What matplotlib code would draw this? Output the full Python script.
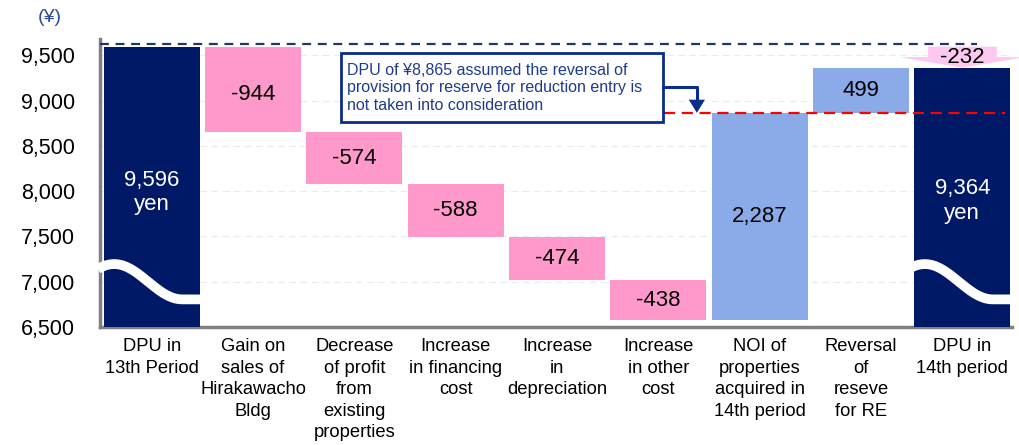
import numpy as np
import matplotlib.pyplot as plt
from matplotlib.patches import Rectangle, Polygon

plt.rcParams['font.family'] = ['Liberation Sans', 'DejaVu Sans']

# donnees du graphe
categories = ["DPU in\n13th Period", "Gain on\nsales of\nHirakawacho\nBldg",
              "Decrease\nof profit\nfrom\nexisting\nproperties",
              "Increase\nin financing\ncost", "Increase\nin\ndepreciation",
              "Increase\nin other\ncost", "NOI of\nproperties\nacquired in\n14th period",
              "Reversal\nof\nreseve\nfor RE", "DPU in\n14th period"]
dpu_start = 9596
deltas = [-944, -574, -588, -474, -438, 2287, 499]
dpu_end = 9364
dpu_excl_reversal = 8865
yticks = [6500, 7000, 7500, 8000, 8500, 9000, 9500]

NAVY = "#001966"
PINK = "#FF99CC"
BLUE = "#8AAAE8"
ymin = 6500

fig = plt.figure(figsize=(10.19, 4.45), dpi=100)
ax = fig.add_axes([100/1019, 1-327/445, 912/1019, 288/445])

# calcul des bases (waterfall)
bottoms = [ymin]
heights = [dpu_start - ymin]
colors = [NAVY]
level = dpu_start
for d in deltas:
    if d < 0:
        bottoms.append(level + d)
        heights.append(-d)
        colors.append(PINK)
    else:
        bottoms.append(level)
        heights.append(d)
        colors.append(BLUE)
    level += d
bottoms.append(ymin)
heights.append(dpu_end - ymin)
colors.append(NAVY)

x = np.arange(len(categories))
ax.bar(x, heights, bottom=bottoms, width=0.95, color=colors, zorder=3)

# labels dans les barres
for i in range(len(x)):
    mid = bottoms[i] + heights[i]/2
    if i == 0:
        s, c, mid = f"{dpu_start:,}\nyen", "white", mid - 60
    elif i == len(x)-1:
        s, c, mid = f"{dpu_end:,}\nyen", "white", mid - 40
    else:
        s, c = f"{deltas[i-1]:,}", "black"
        if i == 1:
            mid -= 60
    ax.text(x[i], mid, s, ha="center", va="center", fontsize=16, color=c,
            linespacing=1.2, zorder=6)

# vague blanche (coupure d'axe)
for xi in [x[0], x[-1]]:
    xs = np.linspace(xi - 0.53, xi + 0.50, 200)
    xp, xt = xi - 0.37, xi + 0.30
    ph = np.clip((xs - xp) / (xt - xp), -0.25, 1.0)
    ys = 7000 + 195*np.cos(np.pi*ph)
    ax.plot(xs, ys, color="white", lw=7, solid_capstyle="butt", zorder=5, clip_on=False)

# ligne pointillee navy au niveau du DPU 13e periode
ax.plot([-0.51, 8.14], [dpu_start + 25]*2, color="#203864", lw=1.6,
        linestyle=(0, (4, 3)), zorder=4, clip_on=False)

# ligne rouge 8,865
ax.plot([5.06, 8.42], [dpu_excl_reversal]*2, color="red", lw=1.6,
        linestyle=(0, (5, 3)), zorder=7)

# fleche -232
diff = dpu_end - dpu_start
xc = x[-1]
yhead = dpu_start + diff*0.5
arrow = Polygon([[xc-0.34, dpu_start], [xc+0.34, dpu_start], [xc+0.34, yhead],
                 [xc+0.62, yhead], [xc, dpu_end], [xc-0.62, yhead], [xc-0.34, yhead]],
                closed=True, facecolor="#FCC8F0", edgecolor="none", zorder=6, clip_on=False)
ax.add_patch(arrow)
ax.text(xc, dpu_start + diff*0.52, f"{diff:,}", ha="center", va="center",
        fontsize=16, zorder=7)

# boite d'annotation
box = Rectangle((1.87, 8760), 3.18, 760, facecolor="white", edgecolor="#0B2D8A",
                lw=2, zorder=8)
ax.add_patch(box)
ax.text(1.93, 9140, "DPU of ¥8,865 assumed the reversal of\nprovision for reserve for reduction entry is\nnot taken into consideration",
        ha="left", va="center", fontsize=11.5, color="#1F3C8C", linespacing=1.2, zorder=9)
ax.plot([5.05, 5.38, 5.38], [9146, 9146, 9010], color="#0B2D8A", lw=2.2, zorder=8)
ax.add_patch(Polygon([[5.30, 9010], [5.46, 9010], [5.38, dpu_excl_reversal]],
                     closed=True, facecolor="#0B2D8A", edgecolor="none", zorder=8))

# axes
ax.set_xlim(-0.51, 8.49)
ax.set_ylim(ymin, 9680)
ax.set_yticks(yticks)
ax.set_yticklabels([f"{v:,}" for v in yticks], fontsize=15.5)
ax.set_xticks(x)
ax.set_xticklabels(categories, fontsize=13.2, linespacing=1.35)
ax.tick_params(axis="both", length=0)
ax.tick_params(axis="y", pad=18)
ax.tick_params(axis="x", pad=8)
for sp in ["top", "right"]:
    ax.spines[sp].set_visible(False)
for sp in ["left", "bottom"]:
    ax.spines[sp].set_color("#808080")
    ax.spines[sp].set_linewidth(2.5)
ax.yaxis.grid(True, color="#EBEBEB", linestyle=(0, (6, 4)), lw=0.8, zorder=0)
ax.set_axisbelow(True)

fig.text(50/1019, 1-18/445, "(¥)", ha="center", va="center", fontsize=14, color="#2B4C9B")

fig.savefig("out.png", dpi=100)
